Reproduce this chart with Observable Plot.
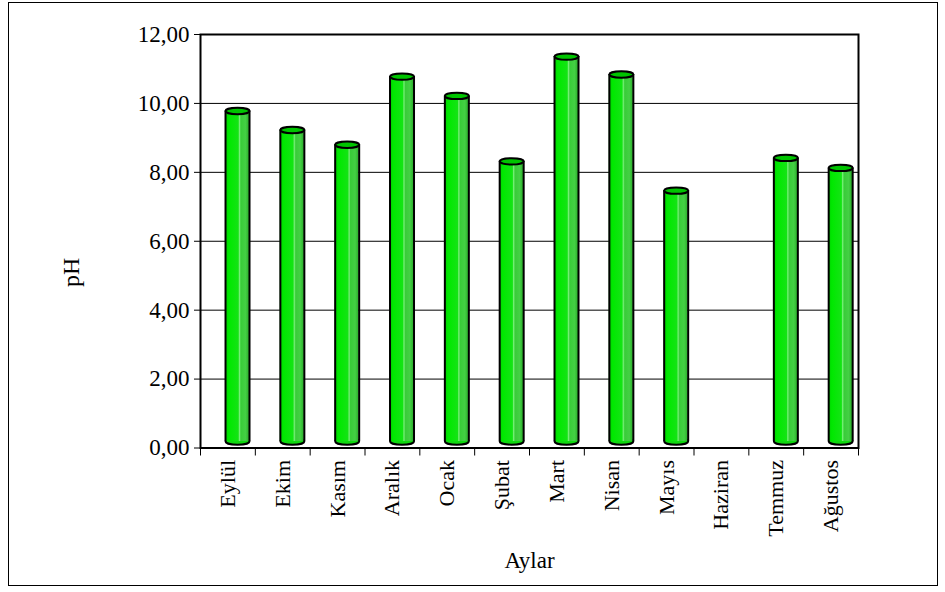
<!DOCTYPE html>
<html>
<head>
<meta charset="utf-8">
<script src="https://cdn.jsdelivr.net/npm/d3@7"></script>
<script src="https://cdn.jsdelivr.net/npm/@observablehq/plot@0.6"></script>
<style>
  html, body { margin: 0; padding: 0; background: #fff; }
  #wrap { position: relative; width: 945px; height: 592px; }
  #wrap svg { position: absolute; left: 0; top: 0; }
  #box { position: absolute; left: 8px; top: 2px; width: 928px; height: 582px; border: 1.5px solid #000; pointer-events: none; }
</style>
</head>
<body>
<div id="wrap"><div id="box"></div></div>
<script>
// Monthly pH measurements (Haziran has no measurement)
const months = ["Eylül", "Ekim", "Kasım", "Aralık", "Ocak", "Şubat", "Mart", "Nisan", "Mayıs", "Haziran", "Temmuz", "Ağustos"];
const phValues = [9.59, 9.04, 8.61, 10.59, 10.03, 8.13, 11.17, 10.65, 7.28, null, 8.23, 7.94];
const yTicks = [0, 2, 4, 6, 8, 10, 12];
const gridValues = [2, 4, 6, 8, 10];

const rows = months.map((m, i) => ({month: m, i, ph: phValues[i]}));
const bars = rows.filter(d => d.ph != null);

// Cylinder drawing: body shifted for a 3D depth look
const depthX = 9.6, depthY = -6.5;
const ellipse = {
  draw(ctx) {
    const rx = 12, ry = 3.2, k = 0.5523;
    ctx.moveTo(-rx, 0);
    ctx.bezierCurveTo(-rx, -ry * k, -rx * k, -ry, 0, -ry);
    ctx.bezierCurveTo(rx * k, -ry, rx, -ry * k, rx, 0);
    ctx.bezierCurveTo(rx, ry * k, rx * k, ry, 0, ry);
    ctx.bezierCurveTo(-rx * k, ry, -rx, ry * k, -rx, 0);
    ctx.closePath();
  }
};

const commaFormat = d => d3.format(".2f")(d).replace(".", ",");

const svg = Plot.plot({
  width: 945,
  height: 592,
  marginLeft: 200,
  marginRight: 87,
  marginTop: 34,
  marginBottom: 144.5,
  style: {fontFamily: "'Liberation Serif', 'Times New Roman', serif", fontSize: "23px", color: "#000", background: "transparent"},
  x: {domain: [0, 12], ticks: d3.range(13), tickSize: 8, tickFormat: () => "", label: null},
  y: {domain: [0, 12], ticks: yTicks, tickSize: 6, tickPadding: 5, tickFormat: commaFormat, label: null},
  marks: [
    Plot.ruleY(gridValues, {stroke: "#000", strokeWidth: 1}),
    // bottom cap of each cylinder
    Plot.dot(bars, {x: d => d.i + 0.5, y: 0, symbol: ellipse, dx: depthX, dy: depthY, fill: "#10d810", stroke: "#000", strokeWidth: 2}),
    // cylinder body
    Plot.rectY(bars, {x1: d => d.i, x2: d => d.i + 1, y1: 0, y2: "ph", insetLeft: 25, insetRight: 5.8, dy: depthY, fill: "url(#cyl)"}),
    Plot.ruleX(bars, {x: d => d.i + 0.5, y1: 0, y2: "ph", dx: depthX - 12, dy: depthY, stroke: "#000", strokeWidth: 2}),
    Plot.ruleX(bars, {x: d => d.i + 0.5, y1: 0, y2: "ph", dx: depthX + 12, dy: depthY, stroke: "#000", strokeWidth: 2}),
    // top cap
    Plot.dot(bars, {x: d => d.i + 0.5, y: "ph", symbol: ellipse, dx: depthX, dy: depthY, fill: "#00c400", stroke: "#000", strokeWidth: 2}),
    Plot.frame({stroke: "#000", strokeWidth: 2}),
    // month labels
    Plot.text(rows, {x: d => d.i + 0.5, y: 0, text: "month", rotate: -90, textAnchor: "end", dy: 12, fontSize: 22, fill: "#000"}),
    // axis titles
    Plot.text(["pH"], {frameAnchor: "left", text: d => d, rotate: -90, textAnchor: "middle", lineAnchor: "middle", dx: -129, dy: 31, fontSize: 24, fill: "#000"}),
    Plot.text(["Aylar"], {frameAnchor: "bottom", text: d => d, textAnchor: "middle", lineAnchor: "middle", dy: 113, fontSize: 23, fill: "#000"})
  ]
});

// gradient shading for the cylinder bodies
const defs = d3.select(svg).insert("defs", ":first-child");
const grad = defs.append("linearGradient").attr("id", "cyl").attr("x1", "0").attr("x2", "1").attr("y1", "0").attr("y2", "0");
[
  [0, "#00cc00"], [0.15, "#00e800"], [0.55, "#14e414"], [0.6, "#78f078"],
  [0.66, "#38cc38"], [0.85, "#44d044"], [1, "#2aac2a"]
].forEach(([o, c]) => grad.append("stop").attr("offset", o).attr("stop-color", c));

document.getElementById("wrap").insertBefore(svg, document.getElementById("box"));
</script>
</body>
</html>
